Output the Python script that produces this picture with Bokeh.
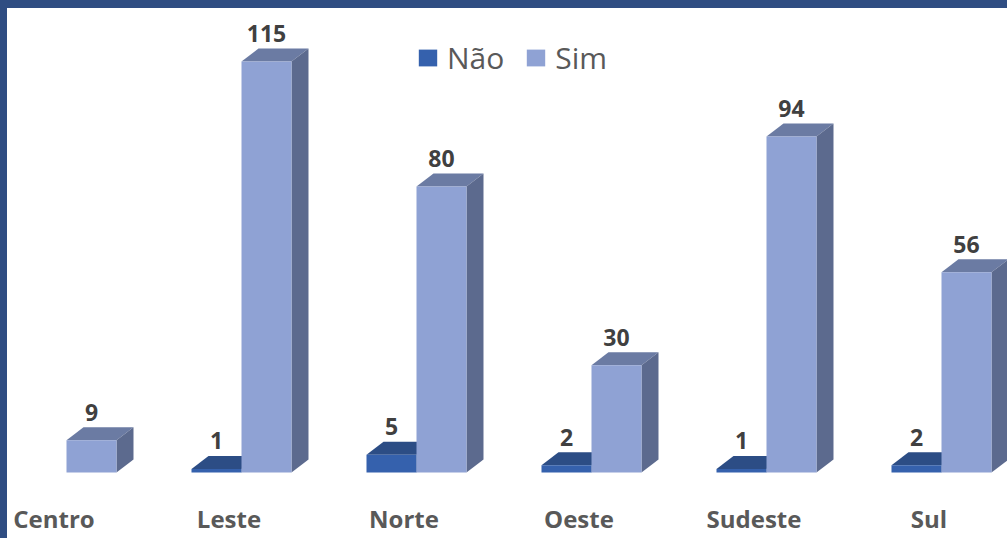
from bokeh.plotting import figure
from bokeh.embed import file_html
from bokeh.resources import INLINE
from bokeh.models import FixedTicker, Legend, LegendItem
from bokeh.core.properties import value

categories = ["Centro", "Leste", "Norte", "Oeste", "Sudeste", "Sul"]
nao = [None, 1, 5, 2, 1, 2]
sim = [9, 115, 80, 30, 94, 56]
series_names = ["Não", "Sim"]

BAR_W = 50 / 175
OFFSET = 12.5 / 175
DX = 17 / 175
DY = 13 / 3.574

p = figure(width=1000, height=530, output_backend="svg", toolbar_location=None,
           x_range=(-0.2657, 5.4486), y_range=(-1.679, 129.83),
           min_border_left=0, min_border_right=0, min_border_top=0, min_border_bottom=60,
           background_fill_color="white", border_fill_color="white", outline_line_color=None)
p.grid.visible = False
p.yaxis.visible = False


def faces(xs, vals, left_shift, front, top, side):
    rows = [(x + left_shift, v) for x, v in zip(xs, vals) if v is not None]
    x0 = [r[0] for r in rows]
    x1 = [r[0] + BAR_W for r in rows]
    v = [r[1] for r in rows]
    p.patches([[a, a + DX, b + DX, b] for a, b in zip(x0, x1)],
              [[h, h + DY, h + DY, h] for h in v],
              fill_color=top, line_color=None)
    p.patches([[b, b + DX, b + DX, b] for b in x1],
              [[0, DY, h + DY, h] for h in v],
              fill_color=side, line_color=None)
    r = p.quad(left=x0, right=x1, bottom=[0] * len(v), top=v, fill_color=front, line_color=None)
    p.text([a + BAR_W / 2 for a in x0], [h + DY for h in v], text=[str(h) for h in v],
           text_font=value("Open Sans"), text_font_style="bold", text_font_size="23px",
           text_color="#404040", text_align="center", text_baseline="middle", y_offset=-15)
    return r


xs = list(range(len(categories)))
r_nao = faces(xs, nao, OFFSET - BAR_W, "#3561AD", "#2C4D85", "#2C4D85")
r_sim = faces(xs, sim, OFFSET, "#8FA2D4", "#6B7BA3", "#5C6A8E")

ax = p.xaxis[0]
ax.ticker = FixedTicker(ticks=xs)
ax.major_label_overrides = {i: c for i, c in enumerate(categories)}
ax.axis_line_color = None
ax.major_tick_line_color = None
ax.minor_tick_line_color = None
ax.major_label_text_font = "Open Sans"
ax.major_label_text_font_style = "bold"
ax.major_label_text_font_size = "24px"
ax.major_label_text_color = "#595959"
ax.major_label_standoff = 17

legend = Legend(items=[LegendItem(label=series_names[0], renderers=[r_nao]),
                       LegendItem(label=series_names[1], renderers=[r_sim])],
                location=(409, 400), orientation="horizontal",
                glyph_width=23, glyph_height=21, label_standoff=8, spacing=20,
                padding=0, margin=0, border_line_color=None, background_fill_color=None,
                label_text_font="Open Sans", label_text_font_size="30px", label_text_color="#595959")
p.add_layout(legend)

html = file_html(p, INLINE)
html = html.replace("</head>", "<style>html{overflow:hidden;background:#2F4D82}body{overflow:hidden;background:white;margin:8px 0 0 7px !important}</style></head>", 1)
open("out.html", "w").write(html)
